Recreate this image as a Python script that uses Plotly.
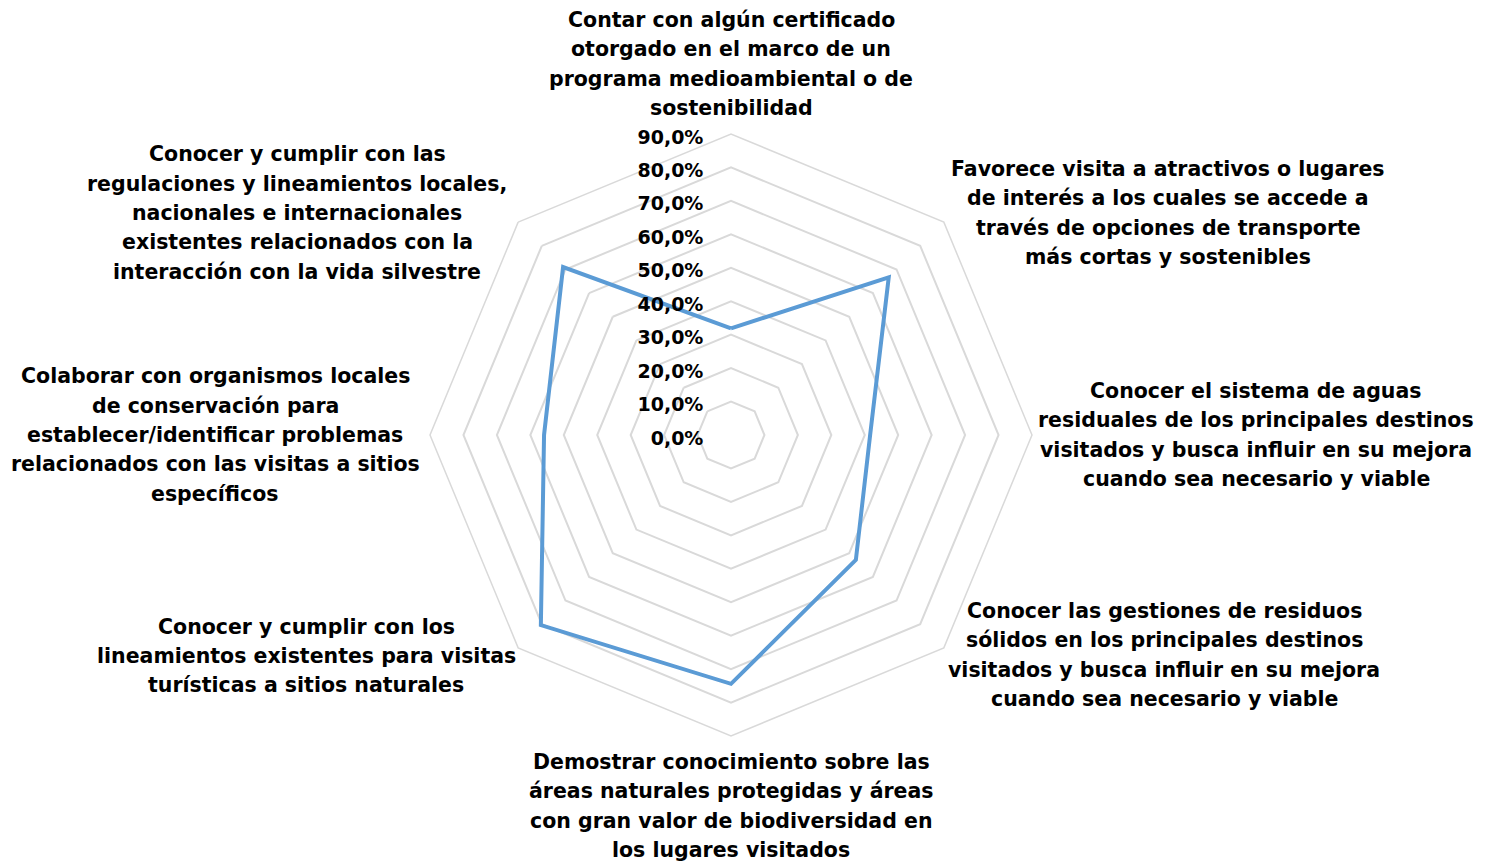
import plotly.graph_objects as go

# categorías (en sentido horario desde arriba)
categorias = [
    "Contar con algún certificado<br>otorgado en el marco de un<br>programa medioambiental o de<br>sostenibilidad",
    "Favorece visita a atractivos o lugares<br>de interés a los cuales se accede a<br>través de opciones de transporte<br>más cortas y sostenibles",
    "Conocer el sistema de aguas<br>residuales de los principales destinos<br>visitados y busca influir en su mejora<br>cuando sea necesario y viable",
    "Conocer las gestiones de residuos<br>sólidos en los principales destinos<br>visitados y busca influir en su mejora<br>cuando sea necesario y viable",
    "Demostrar conocimiento sobre las<br>áreas naturales protegidas y áreas<br>con gran valor de biodiversidad en<br>los lugares visitados",
    "Conocer y cumplir con los<br>lineamientos existentes para visitas<br>turísticas a sitios naturales",
    "Colaborar con organismos locales<br>de conservación para<br>establecer/identificar problemas<br>relacionados con las visitas a sitios<br>específicos",
    "Conocer y cumplir con las<br>regulaciones y lineamientos locales,<br>nacionales e internacionales<br>existentes relacionados con la<br>interacción con la vida silvestre",
]
valores = [31.9, 66.7, 41.6, 52.8, 74.4, 80.4, 55.9, 71.0]

# posición de las etiquetas (px en la imagen 1485x867)
etiqueta_x = [731, 1168, 1256, 1164, 731, 306, 215, 297]
etiqueta_y = [64, 213, 435, 655, 806, 656, 435, 213]
INTERLINEA = 29.3

# la página deja 8 px de margen alrededor de la figura
OFF = 8
W, H = 1485 - OFF, 867 - OFF
cx, cy, rad = 731 - OFF, 435 - OFF, 301


def px_x(x):
    return (x - OFF) / W


def px_y(y):
    return 1 - (y - OFF) / H


fig = go.Figure()

fig.add_trace(go.Scatterpolar(
    r=valores + valores[:1],
    theta=categorias + categorias[:1],
    mode="lines",
    line=dict(color="#5b9bd5", width=4),
    showlegend=False,
    hoverinfo="skip",
))

# etiquetas de categoría, una anotación por línea para igualar el interlineado
for texto, x, y in zip(categorias, etiqueta_x, etiqueta_y):
    lineas = texto.split("<br>")
    n = len(lineas)
    for i, linea in enumerate(lineas):
        yi = y + (i - (n - 1) / 2) * INTERLINEA
        fig.add_annotation(
            text=linea, x=px_x(x), y=px_y(yi), xref="paper", yref="paper",
            xanchor="center", yanchor="middle", showarrow=False,
            font=dict(family="DejaVu Sans", size=20.5, color="black", weight="bold"),
        )

fig.update_layout(
    width=W, height=H,
    margin=dict(l=0, r=0, t=0, b=0),
    paper_bgcolor="white",
    separators=", ",
    polar=dict(
        domain=dict(x=[(cx - rad) / W, (cx + rad) / W],
                    y=[(H - cy - rad) / H, (H - cy + rad) / H]),
        gridshape="linear",
        bgcolor="white",
        radialaxis=dict(
            range=[0, 90], dtick=10, tickformat=".1f", ticksuffix="%",
            angle=90, side="counterclockwise", showline=False,
            ticks="outside", ticklen=10, tickcolor="rgba(0,0,0,0)",
            gridcolor="#d9d9d9", gridwidth=1.5,
            tickfont=dict(family="DejaVu Sans", size=19, color="black", weight="bold"),
        ),
        angularaxis=dict(
            categoryorder="array", categoryarray=categorias,
            rotation=90, direction="clockwise", showticklabels=False,
            ticks="", showgrid=False, showline=True,
            linecolor="#d9d9d9", linewidth=1.5,
        ),
    ),
)

fig.write_html("out.html")
